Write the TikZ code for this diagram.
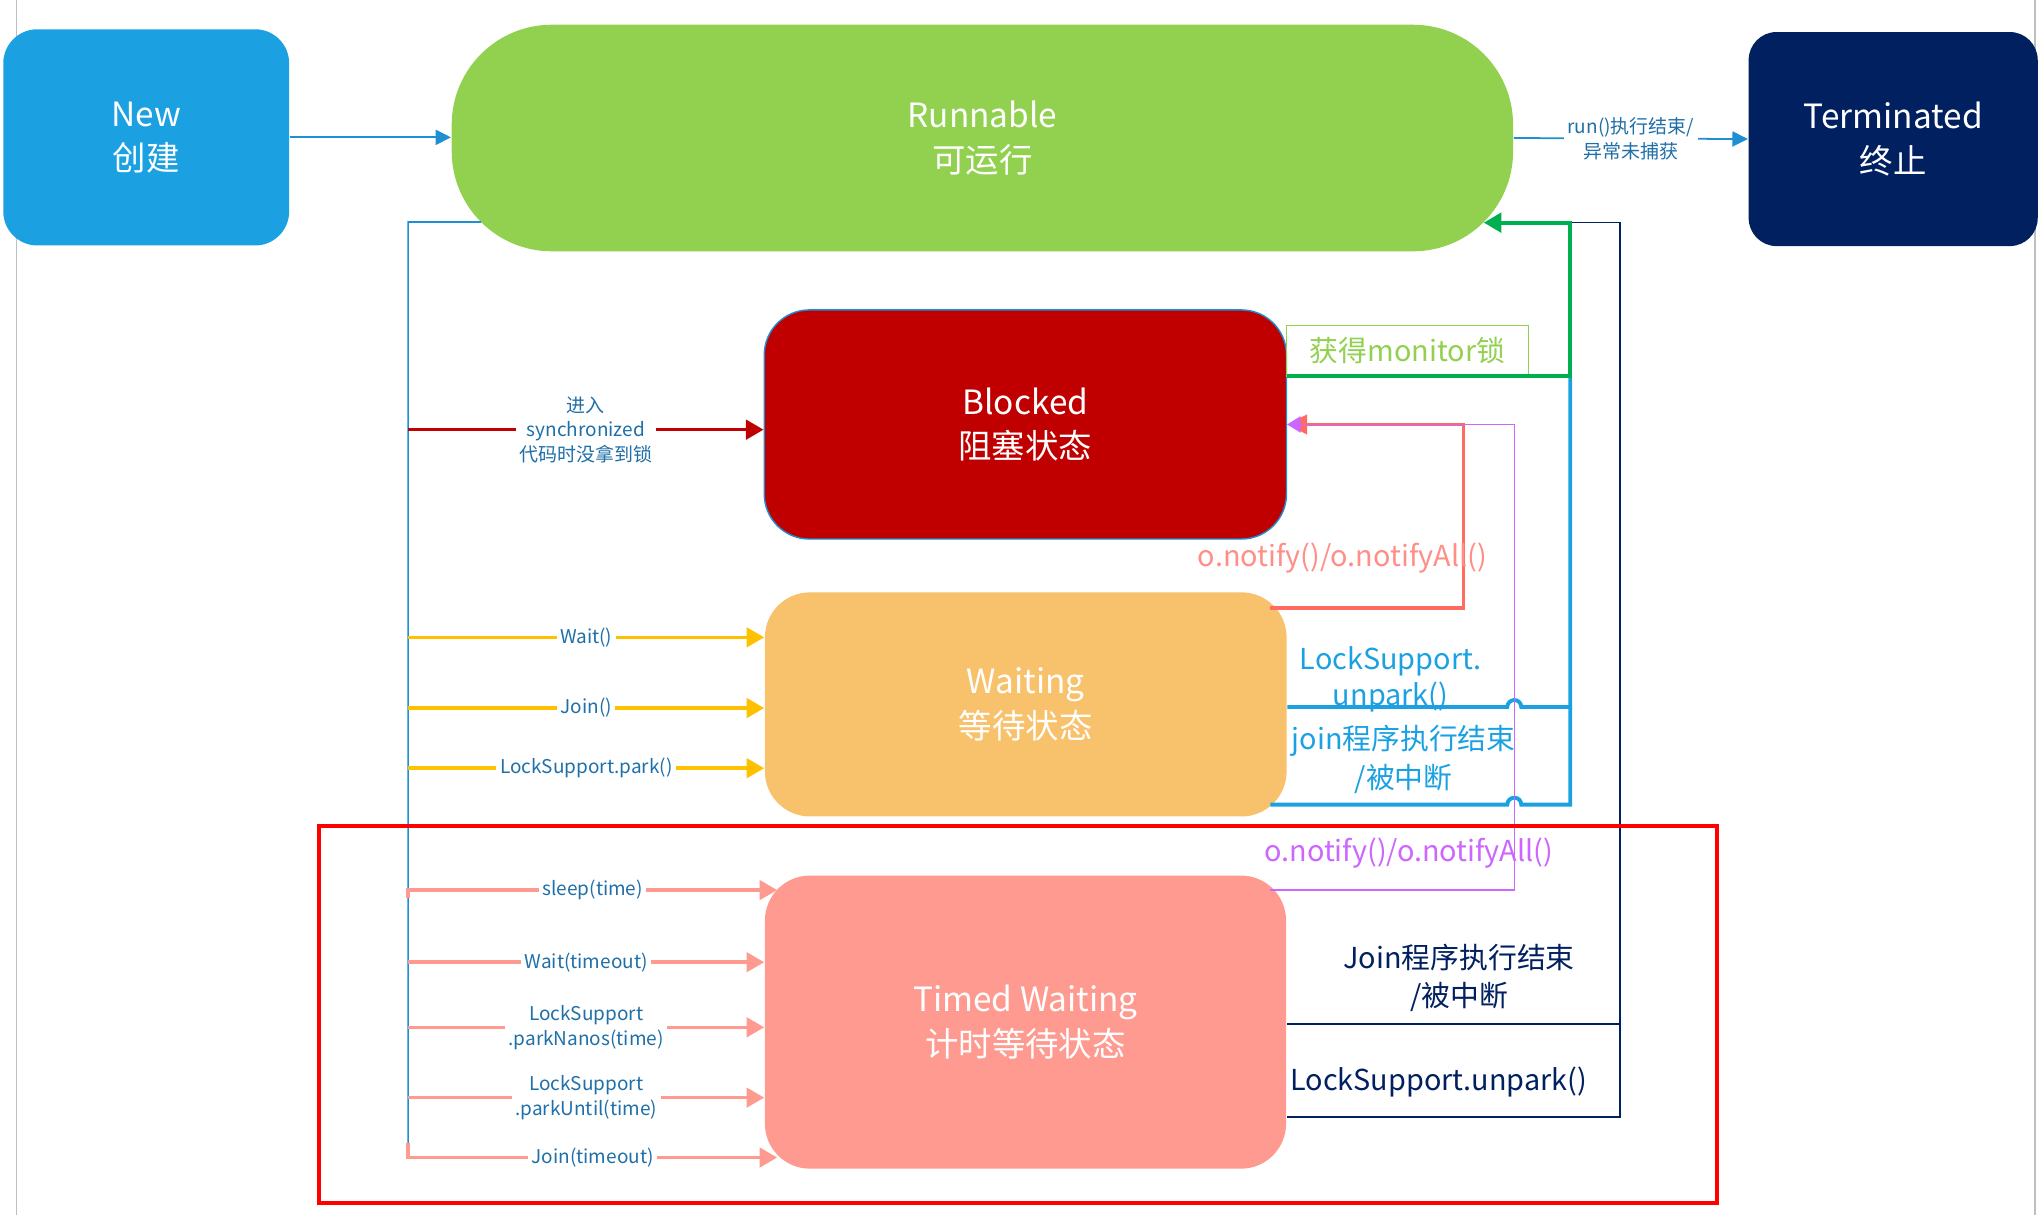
\documentclass[tikz,border=0pt]{standalone}
\usepackage{fontspec}
\setmainfont{Noto Sans CJK SC}
\usetikzlibrary{arrows.meta}

\definecolor{newblue}{HTML}{1BA1E2}
\definecolor{runnablegreen}{HTML}{92D050}
\definecolor{termnavy}{HTML}{002060}
\definecolor{blockedred}{HTML}{C00000}
\definecolor{waitorange}{HTML}{F8C16B}
\definecolor{timedsalmon}{HTML}{FF9A90}
\definecolor{lockyellow}{HTML}{FFC000}
\definecolor{railblue}{HTML}{1E8FD2}
\definecolor{labelblue}{HTML}{1F6FA8}
\definecolor{monitorgreen}{HTML}{00B050}
\definecolor{notifycoral}{HTML}{FF6B5E}
\definecolor{notifypink}{HTML}{FF8F86}
\definecolor{notifyviolet}{HTML}{CC66FF}
\definecolor{pageedge}{HTML}{BFBFBF}

\begin{document}
\begin{tikzpicture}[x=0.01302cm, y=-0.01302cm,
  state/.style={text=white, align=center, font=\fontsize{9.5}{12.6}\selectfont, inner sep=0pt},
  lbl/.style={text=labelblue, align=center, font=\fontsize{5.4}{7}\selectfont, fill=white, inner sep=1pt},
  mid/.style={align=center, font=\fontsize{8.2}{11}\selectfont, inner sep=0pt},
  bigtip/.style={-{Triangle[length=5pt,width=5.5pt]}},
  thinarrow/.style={draw=railblue, line width=0.5pt, -{Triangle[length=4.4pt,width=4.3pt]}},
  rail/.style={draw=railblue, line width=0.45pt},
  syncarrow/.style={bigtip, draw=blockedred, line width=1pt},
  yellowarrow/.style={bigtip, draw=lockyellow, line width=1pt},
  salmonarrow/.style={bigtip, draw=timedsalmon, line width=1pt},
  greenarrow/.style={bigtip, draw=monitorgreen, line width=1.2pt},
  bluejoin/.style={draw=newblue, line width=1.1pt},
  coralarrow/.style={draw=notifycoral, line width=1pt, -{Triangle[length=5.7pt,width=5.5pt]}},
  violetarrow/.style={draw=notifyviolet, line width=0.45pt, -{Triangle[length=3.8pt,width=4.6pt]}},
  navyline/.style={draw=termnavy, line width=0.45pt},
  redframe/.style={draw=red, line width=1pt}]
\useasboundingbox (0,0) rectangle (1566,933.2);

% page edges
\draw[pageedge, line width=0.4pt] (12.8,0) -- (12.8,933.2);
\draw[pageedge, line width=0.4pt] (1563,0) -- (1563,933.2);

% states
\node[state, fill=newblue, rounded corners=0.34cm, minimum width=2.858cm, minimum height=2.161cm] (new) at (112.3,105.5) {New\\创建};
\node[state, fill=runnablegreen, rounded corners=1cm, minimum width=10.61cm, minimum height=2.265cm] (run) at (754.5,106) {Runnable\\可运行};
\node[state, fill=termnavy, rounded corners=0.28cm, minimum width=2.89cm, minimum height=2.14cm] (term) at (1454,106.8) {Terminated\\终止};
\node[state, fill=blockedred, draw=railblue, line width=0.4pt, rounded corners=0.45cm, minimum width=5.22cm, minimum height=2.29cm] (blocked) at (787.5,326) {Blocked\\阻塞状态};
\node[state, fill=waitorange, rounded corners=0.45cm, minimum width=5.215cm, minimum height=2.24cm] (wait) at (787.8,541) {Waiting\\等待状态};
\node[state, fill=timedsalmon, rounded corners=0.45cm, minimum width=5.21cm, minimum height=2.93cm] (timed) at (787.6,785) {Timed Waiting\\计时等待状态};

% top row
\draw[thinarrow] (new.east) -- (new.east -| run.west);
\draw[thinarrow] (run.east) -- node[lbl]{run()执行结束/\\异常未捕获} (term.west);

% left rail
\coordinate (railtop) at (313.5,170.5);
\coordinate (railend) at (313.5,878);
\draw[rail] ([xshift=0.3cm,yshift=0.3cm]run.south west) -- (railtop) -- (railend);

\coordinate (sync) at (313.5,330);
\draw[syncarrow] (sync) -- node[lbl]{进入\\synchronized\\代码时没拿到锁} (sync -| blocked.west);

\foreach \y/\txt [count=\i] in {489.5/Wait(), 543.8/Join(), 590/LockSupport.park()} {
  \coordinate (w\i) at (313.5,\y);
  \draw[yellowarrow] (w\i) -- node[lbl, inner ysep=0pt]{\txt} (w\i -| wait.west);
}

\foreach \ys/\yt/\dx/\txt [count=\i] in {690/683.6/0.13/sleep(time), 739/739/0/Wait(timeout),
    789/789/0/{LockSupport\\.parkNanos(time)}, 843/843/0/{LockSupport\\.parkUntil(time)},
    878/889/0.13/Join(timeout)} {
  \coordinate (t\i) at (313.5,\ys);
  \coordinate (te\i) at (313.5,\yt);
  \draw[salmonarrow] (t\i) |- node[lbl, pos=0.75, inner ysep=0pt]{\txt} ([xshift=\dx cm]te\i -| timed.west);
}

% way back to runnable
\coordinate (g1) at (1206,289);
\coordinate (g2) at (1206,171);
\coordinate (b1) at (1206,543);
\coordinate (b2) at (1206,618);
\coordinate (hop1) at (1163,543);
\coordinate (hop2) at (1163,618);
\coordinate (n1) at (1244,171);
\coordinate (n2) at (1244,786.5);
\coordinate (n3) at (1244,858);

\draw[navyline] (g2) -- (n1) -- (n3) -- (n3 -| timed.east);
\draw[navyline] (timed.east |- n2) -- (n2);

\draw[bluejoin] (wait.east |- b1) -- ([xshift=-0.07cm]hop1) arc[start angle=180, end angle=0, radius=0.07cm] -- (b1) -- (g1);
\draw[bluejoin] ([xshift=-0.17cm]wait.east |- b2) -- ([xshift=-0.07cm]hop2) arc[start angle=180, end angle=0, radius=0.07cm] -- (b2) -- (b1);

\node[draw=runnablegreen, line width=0.4pt, text=runnablegreen, mid, minimum width=2.42cm, minimum height=0.51cm] (monitor) at (1081,269.5) {获得monitor锁};
\draw[greenarrow] (blocked.east |- g1) -- (g1) -- (g2) -- ([xshift=-0.3cm]g2 -| run.east);

% notify
\coordinate (c1) at (1124,467);
\coordinate (c2) at (1124,326);
\coordinate (v1) at (1163,683.6);
\coordinate (v2) at (1163,326);
\draw[coralarrow] ([xshift=-0.17cm]wait.east |- c1) -- (c1) -- (c2) -- (blocked.east |- c2);
\draw[violetarrow] ([xshift=-0.17cm]timed.east |- v1) -- (v1) -- (v2) -- (blocked.east |- v2);

% labels on the right
\node[mid, text=notifypink] (notify1) at (1031,429) {o.notify()/o.notifyAll()};
\node[mid, text=notifyviolet] (notify2) at (1082,655) {o.notify()/o.notifyAll()};
\node[mid, text=newblue, font=\fontsize{8.2}{10.2}\selectfont] (unpark1) at (1068,522) {LockSupport.\\unpark()};
\node[mid, text=newblue] (joined1) at (1078,583) {join程序执行结束\\/被中断};
\node[mid, text=termnavy] (joined2) at (1120.6,751) {Join程序执行结束\\/被中断};
\node[mid, text=termnavy] (unpark2) at (1105,831) {LockSupport.unpark()};

% timed waiting zone
\draw[redframe] (245,634.5) rectangle (1318.5,924);
\end{tikzpicture}
\end{document}
